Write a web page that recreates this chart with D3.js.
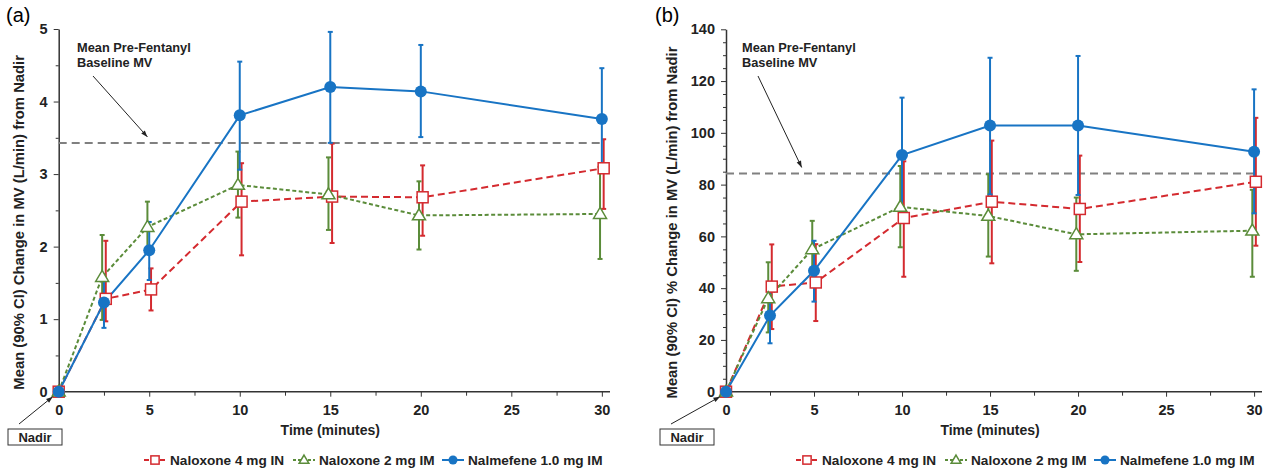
<!DOCTYPE html>
<html>
<head>
<meta charset="utf-8">
<script src="https://cdn.jsdelivr.net/npm/d3@7"></script>
<style>
  body { margin: 0; background: #fff; }
  svg { font-family: "Liberation Sans", Arial, sans-serif; }
  .tick text { font-weight: bold; font-size: 14.5px; fill: #222; }
</style>
</head>
<body>
<svg id="chart" width="1269" height="470"></svg>
<script>
// time points (minutes)
const times = [0, 2.5, 5, 10, 15, 20, 30];
const seriesNames = ["Naloxone 4 mg IN", "Naloxone 2 mg IM", "Nalmefene 1.0 mg IM"];

// panel (a): change in MV (L/min) from nadir
const aNalox4Mean = [0, 1.28, 1.41, 2.62, 2.69, 2.68, 3.08];
const aNalox4Lo   = [0, 0.97, 1.12, 1.88, 2.05, 2.15, 2.52];
const aNalox4Hi   = [0, 2.08, 1.70, 3.15, 3.42, 3.12, 3.48];
const aNalox2Mean = [0, 1.58, 2.27, 2.85, 2.72, 2.43, 2.45];
const aNalox2Lo   = [0, 0.99, 1.90, 2.40, 2.23, 1.96, 1.83];
const aNalox2Hi   = [0, 2.16, 2.62, 3.31, 3.23, 2.90, 3.10];
const aNalmMean   = [0, 1.23, 1.95, 3.81, 4.20, 4.14, 3.76];
const aNalmLo     = [0, 0.88, 1.54, 3.06, 3.43, 3.51, 3.06];
const aNalmHi     = [0, 1.55, 2.34, 4.55, 4.96, 4.78, 4.46];
const aBaseline = 3.43;

// panel (b): % change in MV from nadir
const bNalox4Mean = [0, 40.6, 42.2, 67.1, 73.4, 70.6, 81.1];
const bNalox4Lo   = [0, 24.2, 27.3, 44.4, 49.6, 50.1, 56.4];
const bNalox4Hi   = [0, 56.9, 57.0, 89.0, 97.0, 91.2, 105.8];
const bNalox2Mean = [0, 36.1, 55.0, 71.4, 67.9, 60.8, 62.2];
const bNalox2Lo   = [0, 22.9, 44.0, 55.8, 52.2, 46.7, 44.4];
const bNalox2Hi   = [0, 50.0, 66.0, 87.2, 84.0, 75.0, 78.0];
const bNalmMean   = [0, 29.4, 46.7, 91.4, 102.8, 102.8, 92.7];
const bNalmLo     = [0, 18.7, 34.8, 69.0, 76.2, 76.0, 68.9];
const bNalmHi     = [0, 40.0, 58.3, 113.6, 129.0, 129.7, 116.8];
const bBaseline = 84.3;

const colors = ["#d42a2f", "#5b8c3a", "#1874c4"];
const dashes = ["7,4", "4,2.5", null];
const jitter = [0.1, -0.1, 0]; // small horizontal offset per series (minutes)

const svg = d3.select("#chart");

function drawPanel(cfg) {
    const x = d3.scaleLinear().domain([0, cfg.xMax]).range(cfg.xRange);
    const y = d3.scaleLinear().domain(cfg.yDomain).range(cfg.yRange);
    const g = svg.append("g");

    // axes
    const xAxis = g.append("g")
        .attr("transform", `translate(0,${cfg.yRange[0]})`)
        .call(d3.axisBottom(x).tickValues([0, 5, 10, 15, 20, 25, 30]).tickSize(5).tickPadding(8));
    g.append("g")
        .attr("transform", `translate(0,${cfg.yRange[0]})`)
        .call(d3.axisBottom(x).tickValues([2.5, 7.5, 12.5, 17.5, 22.5, 27.5]).tickSize(4).tickFormat(""))
        .select(".domain").remove();
    g.append("g")
        .attr("transform", `translate(${cfg.xRange[0]},0)`)
        .call(d3.axisLeft(y).tickValues(cfg.yTicks).tickFormat(d3.format("d"))
            .tickSize(5).tickPadding(6).tickSizeOuter(0));
    g.append("g")
        .attr("transform", `translate(${cfg.xRange[0]},0)`)
        .call(d3.axisLeft(y).tickValues(cfg.yMinor).tickSize(3).tickFormat(""))
        .select(".domain").remove();
    g.selectAll(".domain").attr("stroke", "#333").attr("stroke-width", 1.5);
    g.selectAll(".tick line").attr("stroke", "#333").attr("stroke-width", 1);
    xAxis.selectAll(".domain").attr("d", `M${cfg.xRange[0]},0H${cfg.xRange[1]}`);

    // baseline
    g.append("line")
        .attr("x1", x(0)).attr("x2", x(30))
        .attr("y1", y(cfg.baseline)).attr("y2", y(cfg.baseline))
        .attr("stroke", "#808080").attr("stroke-width", 2).attr("stroke-dasharray", "8,5");

    const series = cfg.series.map((s, i) => times.map((t, j) => ({
        t: t + (t === 0 ? 0 : jitter[i]), m: s.mean[j], lo: s.lo[j], hi: s.hi[j]
    })));

    // error bars
    series.forEach((pts, i) => {
        const eb = g.append("g").attr("stroke", colors[i]).attr("stroke-width", 2);
        pts.filter(d => d.t > 0).forEach(d => {
            eb.append("line").attr("x1", x(d.t)).attr("x2", x(d.t)).attr("y1", y(d.lo)).attr("y2", y(d.hi));
            eb.append("line").attr("x1", x(d.t) - 2.5).attr("x2", x(d.t) + 2.5).attr("y1", y(d.lo)).attr("y2", y(d.lo));
            eb.append("line").attr("x1", x(d.t) - 2.5).attr("x2", x(d.t) + 2.5).attr("y1", y(d.hi)).attr("y2", y(d.hi));
        });
    });

    // lines
    const line = d3.line().x(d => x(d.t)).y(d => y(d.m));
    series.forEach((pts, i) => {
        g.append("path").datum(pts).attr("d", line)
            .attr("fill", "none").attr("stroke", colors[i]).attr("stroke-width", 2)
            .attr("stroke-dasharray", dashes[i]);
    });

    // markers
    series.forEach((pts, i) => {
        pts.forEach(d => drawMarker(g, i, x(d.t), y(d.m)));
    });

    // panel label
    g.append("text").attr("x", cfg.labelX).attr("y", 22)
        .attr("font-size", 20).text(cfg.label);

    // y title
    g.append("text")
        .attr("transform", `translate(${cfg.yTitleX},${(cfg.yRange[0] + cfg.yRange[1]) / 2 + 12}) rotate(-90)`)
        .attr("text-anchor", "middle").attr("font-weight", "bold").attr("font-size", 14.8)
        .attr("fill", "#222").text(cfg.yTitle);

    // x title
    g.append("text")
        .attr("x", x(15)).attr("y", 435)
        .attr("text-anchor", "middle").attr("font-weight", "bold").attr("font-size", 14)
        .attr("fill", "#222").text("Time (minutes)");

    // baseline annotation
    const ann = g.append("text").attr("font-weight", "bold").attr("font-size", 12.8).attr("fill", "#222");
    ann.append("tspan").attr("x", cfg.annX).attr("y", 52).text("Mean Pre-Fentanyl");
    ann.append("tspan").attr("x", cfg.annX).attr("y", 67).text("Baseline MV");
    arrow(g, cfg.annX + 16, 76, x(cfg.annArrowT), y(cfg.baseline) - 6);

    // nadir box
    g.append("rect").attr("x", cfg.nadirX).attr("y", 429).attr("width", 54).attr("height", 16)
        .attr("fill", "#fff").attr("stroke", "#333").attr("stroke-width", 1);
    g.append("text").attr("x", cfg.nadirX + 27).attr("y", 442).attr("text-anchor", "middle")
        .attr("font-weight", "bold").attr("font-size", 13).attr("fill", "#222").text("Nadir");
    arrow(g, cfg.nadirX + 11, 424, x(0) - 6, y(0) + 5);

    // legend
    const legX = [cfg.legendX, cfg.legendX + 149, cfg.legendX + 298];
    seriesNames.forEach((name, i) => {
        const lx = legX[i];
        g.append("line").attr("x1", lx).attr("x2", lx + 22).attr("y1", 460).attr("y2", 460)
            .attr("stroke", colors[i]).attr("stroke-width", 2)
            .attr("stroke-dasharray", i === 0 ? "5,3" : i === 1 ? "3,2" : null);
        drawMarker(g, i, lx + 11, 460, 0.75);
        g.append("text").attr("x", lx + 26).attr("y", 465)
            .attr("font-weight", "bold").attr("font-size", 13.6).attr("fill", "#222").text(name);
    });
}

function drawMarker(g, i, cx, cy, k = 1) {
    if (i === 0) {
        const s = 11 * k;
        g.append("rect").attr("x", cx - s / 2).attr("y", cy - s / 2).attr("width", s).attr("height", s)
            .attr("fill", "#fff").attr("stroke", colors[0]).attr("stroke-width", 1.5);
    } else if (i === 1) {
        const w = 13 * k, h = 11 * k;
        g.append("path").attr("d", `M${cx},${cy - h * 0.6}L${cx + w / 2},${cy + h * 0.4}L${cx - w / 2},${cy + h * 0.4}Z`)
            .attr("fill", "#fff").attr("stroke", colors[1]).attr("stroke-width", 1.5);
    } else {
        g.append("circle").attr("cx", cx).attr("cy", cy).attr("r", 6 * k).attr("fill", colors[2]);
    }
}

function arrow(g, x1, y1, x2, y2) {
    g.append("line").attr("x1", x1).attr("y1", y1).attr("x2", x2).attr("y2", y2)
        .attr("stroke", "#222").attr("stroke-width", 1);
    const a = Math.atan2(y2 - y1, x2 - x1), L = 7, w = 0.35;
    g.append("path")
        .attr("d", `M${x2},${y2}L${x2 - L * Math.cos(a - w)},${y2 - L * Math.sin(a - w)}L${x2 - L * Math.cos(a + w)},${y2 - L * Math.sin(a + w)}Z`)
        .attr("fill", "#222");
}

drawPanel({
    label: "(a)", labelX: 6,
    xMax: 30.45, xRange: [58.7, 610],
    yDomain: [0, 5], yRange: [391.7, 29],
    yTicks: [0, 1, 2, 3, 4, 5], yMinor: d3.range(0.5, 5, 1),
    baseline: aBaseline,
    yTitle: "Mean (90% CI) Change in MV (L/min) from Nadir", yTitleX: 24,
    annX: 77, annArrowT: 4.9,
    nadirX: 8, legendX: 144,
    series: [
        { mean: aNalox4Mean, lo: aNalox4Lo, hi: aNalox4Hi },
        { mean: aNalox2Mean, lo: aNalox2Lo, hi: aNalox2Hi },
        { mean: aNalmMean, lo: aNalmLo, hi: aNalmHi }
    ]
});

drawPanel({
    label: "(b)", labelX: 655,
    xMax: 30.45, xRange: [726, 1262],
    yDomain: [0, 140], yRange: [391.7, 29.3],
    yTicks: d3.range(0, 141, 20), yMinor: d3.range(5, 140, 5).filter(v => v % 20 !== 0),
    baseline: bBaseline,
    yTitle: "Mean (90% CI) % Change in MV (L/min) from Nadir", yTitleX: 677,
    annX: 742, annArrowT: 4.3,
    nadirX: 660, legendX: 796,
    series: [
        { mean: bNalox4Mean, lo: bNalox4Lo, hi: bNalox4Hi },
        { mean: bNalox2Mean, lo: bNalox2Lo, hi: bNalox2Hi },
        { mean: bNalmMean, lo: bNalmLo, hi: bNalmHi }
    ]
});
</script>
</body>
</html>
